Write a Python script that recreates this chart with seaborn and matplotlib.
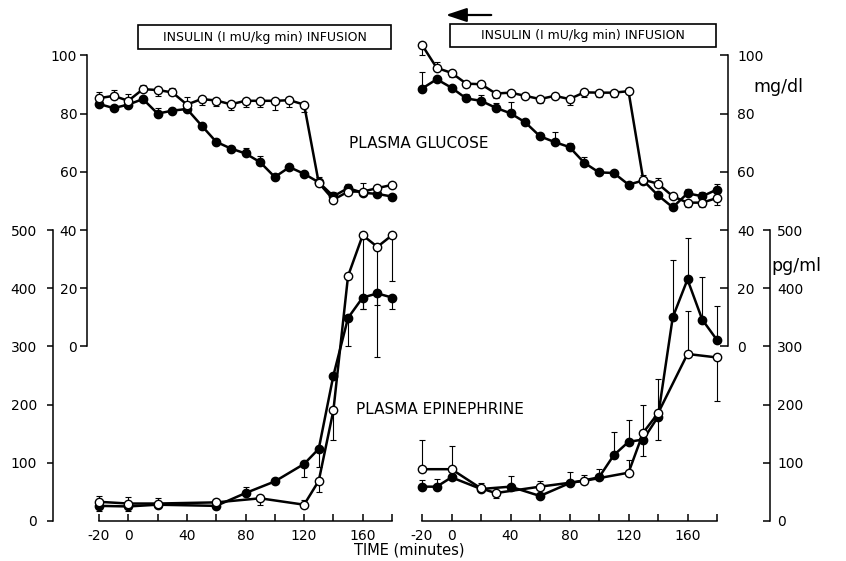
import matplotlib
matplotlib.use("Agg")
import matplotlib.pyplot as plt
import seaborn as sns
from matplotlib.patches import Rectangle, FancyArrowPatch

# ---------------- data ----------------
time_glu = [-20, -10, 0, 10, 20, 30, 40, 50, 60, 70, 80, 90, 100, 110, 120, 130, 140, 150, 160, 170, 180]

glu_left_open = [85.3, 86.1, 84.4, 88.4, 88.1, 87.3, 83.1, 85.0, 84.5, 83.2, 84.4, 84.4, 84.4, 84.6, 83.1,
                 56.2, 50.4, 53.2, 53.2, 54.4, 55.5]
glu_left_open_err = [2, 2, 2.5, 1.5, -2, 1.5, 2.5, -2, -2, -2, -2, -2, -3, -2.5, -2.5,
                     2, 2.5, 2.5, 3, 0, 0]
glu_left_filled = [83.3, 81.9, 83.1, 85.0, 80.0, 81.0, 81.6, 75.9, 70.3, 68.0, 66.3, 63.3, 58.2, 61.6, 59.3,
                   56.4, 51.6, 54.4, 52.8, 52.4, 51.5]
glu_left_filled_err = [0, 0, 0, 0, 2, 0, 2, 0, 0, 0, 2, 2, 0, 0, 0, 0, 0, 0, 0, 0, 0]

glu_right_open = [103.6, 95.7, 94.0, 90.3, 90.1, 86.9, 87.2, 86.1, 85.0, 86.1, 85.0, 87.3, 87.2, 87.2, 87.7,
                  57.3, 55.9, 51.6, 49.4, 49.4, 51.0]
glu_right_open_err = [-3.5, 2, -1.5, 0, 0, -1.5, 0, 0, -1.5, 0, -2, -1.5, -1.5, -1.5, 0,
                      1.5, 2, 0, -1.5, -1.5, -2.5]
glu_right_filled = [88.6, 91.8, 88.9, 85.2, 84.4, 82.0, 80.1, 77.0, 72.2, 70.2, 68.5, 63.1, 59.8, 59.6, 55.6,
                    57.0, 51.9, 47.8, 52.6, 51.6, 53.9]
glu_right_filled_err = [5.7, 0, 0, 1.5, 2, 1.5, 4, 1, 0, 3.5, 1.5, 2, 0, 0, 0, 0, 0, 0, 1.5, 1.5, 2]

epi_left_filled_t = [-20, 0, 20, 60, 80, 100, 120, 130, 140, 150, 160, 170, 180]
epi_left_filled = [26, 25, 28, 26, 48, 68, 98, 124, 250, 349, 384, 391, 384]
epi_left_filled_err = [-8, -8, 12, -6, 11, 0, -23, -31, 0, -48, -20, -20, -19]
epi_left_open_t = [-20, 0, 20, 60, 90, 120, 130, 140, 150, 160, 170, 180]
epi_left_open = [33, 30, 30, 32, 39, 28, 69, 190, 421, 491, 471, 491]
epi_left_open_err = [10, 11, 0, 5, -11, 8, -20, -50, 0, -127, -190, -79]

epi_right_filled_t = [-20, -10, 0, 20, 40, 60, 80, 100, 110, 120, 130, 140, 150, 160, 170, 180]
epi_right_filled = [59, 59, 75, 55, 59, 43, 65, 75, 113, 136, 140, 179, 350, 415, 346, 311]
epi_right_filled_err = [12, 13, 0, 10, 18, 0, 20, 15, 40, 37, 0, 0, 99, 72, 73, 59]
epi_right_open_t = [-20, 0, 20, 30, 60, 90, 120, 130, 140, 160, 180]
epi_right_open = [89, 89, 56, 48, 59, 69, 83, 152, 185, 287, 281]
epi_right_open_err_lo = [0, 0, 0, 8, 0, 0, 0, 41, 45, 0, 75]
epi_right_open_err_hi = [51, 40, 0, 0, 10, 10, 22, 48, 59, 74, 0]

x_ticks = [-20, 0, 20, 40, 60, 80, 100, 120, 140, 160, 180]
x_ticklabels = ["-20", "0", "", "40", "", "80", "", "120", "", "160", ""]
glu_ticks = [0, 20, 40, 60, 80, 100]
glu_ticklabels = ["0", "20", "40", "60", "80", "100"]
epi_ticks = [0, 100, 200, 300, 400, 500]
epi_ticklabels = ["0", "100", "200", "300", "400", "500"]

box_text = "INSULIN (I mU/kg min) INFUSION"
glucose_title = "PLASMA GLUCOSE"
epi_title = "PLASMA EPINEPHRINE"
xlabel_text = "TIME (minutes)"
glu_unit = "mg/dl"
epi_unit = "pg/ml"

# ---------------- layout ----------------
W, H = 846, 561
sns.set_style("white")
plt.rcParams['font.family'] = ['DejaVu Sans']
plt.rcParams['text.color'] = 'black'
plt.rcParams['xtick.color'] = 'black'
plt.rcParams['ytick.color'] = 'black'

fig = plt.figure(figsize=(W / 100, H / 100), dpi=100)
fig.patch.set_facecolor("white")

EPI_Y0 = 521.0      # pixel row of epinephrine 0
EPI_S = 0.582       # pixels per pg/ml
GLU_OFF, GLU_F = 300.0, 5.0  # glucose g sits at epi = GLU_OFF + GLU_F*g

epi_lim = ((EPI_Y0 - H) / EPI_S, EPI_Y0 / EPI_S)
glu_lim = ((epi_lim[0] - GLU_OFF) / GLU_F, (epi_lim[1] - GLU_OFF) / GLU_F)


def xl(px):
    return -20 + (px - 99) / 1.465


def xr(px):
    return -20 + (px - 422) / 1.475


def fx(px):
    return px / W


def fy(py):
    return 1 - py / H


LW = 1.8
MS = 6.0
SPW = 1.1


def errbars(ax, t, y, lo, hi):
    tt, yy, ll, hh = [], [], [], []
    for a, b, c, d in zip(t, y, lo, hi):
        if c or d:
            tt.append(a); yy.append(b); ll.append(c); hh.append(d)
    ax.errorbar(tt, yy, yerr=[ll, hh], fmt='none', ecolor='black', elinewidth=0.8,
                capsize=2.5, capthick=0.8, zorder=1)


def signed(e):
    return [(-v if v < 0 else 0) for v in e], [(v if v > 0 else 0) for v in e]


def series(ax, t, y, filled):
    sns.lineplot(x=t, y=y, ax=ax, color='black', linewidth=LW, marker='o', markersize=MS,
                 markerfacecolor='black' if filled else 'white', markeredgecolor='black',
                 markeredgewidth=1.0, zorder=3 if filled else 4, clip_on=False)


def make_panel():
    ax = fig.add_axes([0, 0, 1, 1])
    ax.patch.set_visible(False)
    axg = ax.twinx()
    axg.patch.set_visible(False)
    return ax, axg


# ---------- left panel ----------
axL, axLg = make_panel()
lo, hi = signed(epi_left_filled_err)
errbars(axL, epi_left_filled_t, epi_left_filled, lo, hi)
lo, hi = signed(epi_left_open_err)
errbars(axL, epi_left_open_t, epi_left_open, lo, hi)
series(axL, epi_left_filled_t, epi_left_filled, True)
series(axL, epi_left_open_t, epi_left_open, False)

lo, hi = signed(glu_left_filled_err)
errbars(axLg, time_glu, glu_left_filled, lo, hi)
lo, hi = signed(glu_left_open_err)
errbars(axLg, time_glu, glu_left_open, lo, hi)
series(axLg, time_glu, glu_left_filled, True)
series(axLg, time_glu, glu_left_open, False)

axL.set_xlim(xl(0), xl(W))
axL.set_ylim(*epi_lim)
axLg.set_ylim(*glu_lim)
for s in ['top', 'right']:
    axL.spines[s].set_visible(False)
axL.spines['left'].set_position(('data', xl(53)))
axL.spines['left'].set_bounds(0, 500)
axL.spines['bottom'].set_position(('data', 0))
axL.spines['bottom'].set_bounds(-20, 180)
for s in ['left', 'bottom']:
    axL.spines[s].set_linewidth(SPW)
    axL.spines[s].set_color('black')
axL.set_xticks(x_ticks)
axL.set_xticklabels(x_ticklabels)
axL.set_yticks(epi_ticks)
axL.set_yticklabels(epi_ticklabels)
axL.yaxis.set_ticks_position('left')
axL.xaxis.set_ticks_position('bottom')
axL.tick_params(axis='x', direction='in', length=5, width=SPW, pad=6, labelsize=10, colors='black')
axL.tick_params(axis='y', direction='out', length=4.5, width=SPW, pad=7, labelsize=10, colors='black')
axL.set_xlabel(""); axL.set_ylabel("")

for s in ['top', 'right', 'bottom']:
    axLg.spines[s].set_visible(False)
axLg.spines['left'].set_visible(True)
axLg.spines['left'].set_position(('data', xl(87)))
axLg.spines['left'].set_bounds(0, 100)
axLg.spines['left'].set_linewidth(SPW)
axLg.spines['left'].set_color('black')
axLg.yaxis.set_ticks_position('left')
axLg.set_yticks(glu_ticks)
axLg.set_yticklabels(glu_ticklabels)
axLg.tick_params(axis='y', direction='out', length=5, width=SPW, pad=2, labelsize=10, colors='black')
axLg.set_ylabel("")

# ---------- right panel ----------
axR, axRg = make_panel()
lo, hi = signed(epi_right_filled_err)
errbars(axR, epi_right_filled_t, epi_right_filled, lo, hi)
errbars(axR, epi_right_open_t, epi_right_open, epi_right_open_err_lo, epi_right_open_err_hi)
series(axR, epi_right_filled_t, epi_right_filled, True)
series(axR, epi_right_open_t, epi_right_open, False)

lo, hi = signed(glu_right_filled_err)
errbars(axRg, time_glu, glu_right_filled, lo, hi)
lo, hi = signed(glu_right_open_err)
errbars(axRg, time_glu, glu_right_open, lo, hi)
series(axRg, time_glu, glu_right_filled, True)
series(axRg, time_glu, glu_right_open, False)

axR.set_xlim(xr(0), xr(W))
axR.set_ylim(*epi_lim)
axRg.set_ylim(*glu_lim)
for s in ['top', 'left']:
    axR.spines[s].set_visible(False)
axR.spines['right'].set_visible(True)
axR.spines['right'].set_position(('data', xr(770)))
axR.spines['right'].set_bounds(0, 500)
axR.spines['bottom'].set_position(('data', 0))
axR.spines['bottom'].set_bounds(-20, 180)
for s in ['right', 'bottom']:
    axR.spines[s].set_linewidth(SPW)
    axR.spines[s].set_color('black')
axR.set_xticks(x_ticks)
axR.set_xticklabels(x_ticklabels)
axR.yaxis.set_ticks_position('right')
axR.xaxis.set_ticks_position('bottom')
axR.set_yticks(epi_ticks)
axR.set_yticklabels(epi_ticklabels)
axR.tick_params(axis='x', direction='in', length=5, width=SPW, pad=6, labelsize=10, colors='black')
axR.tick_params(axis='y', direction='in', length=5, width=SPW, pad=5, labelsize=10, colors='black',
                left=False, labelleft=False, right=True, labelright=True)
axR.set_xlabel(""); axR.set_ylabel("")

for s in ['top', 'left', 'bottom']:
    axRg.spines[s].set_visible(False)
axRg.spines['right'].set_visible(True)
axRg.spines['right'].set_position(('data', xr(728)))
axRg.spines['right'].set_bounds(0, 100)
axRg.spines['right'].set_linewidth(SPW)
axRg.spines['right'].set_color('black')
axRg.yaxis.set_ticks_position('right')
axRg.set_yticks(glu_ticks)
axRg.set_yticklabels(glu_ticklabels)
axRg.tick_params(axis='y', direction='in', length=5.5, width=SPW, pad=6.5, labelsize=10, colors='black')
axRg.set_ylabel("")

# ---------- annotations ----------
fig.text(fx(419), fy(143), glucose_title, ha='center', va='center', fontsize=11, color='black')
fig.text(fx(440), fy(410), epi_title, ha='center', va='center', fontsize=11, color='black')
fig.text(fx(409), fy(550), xlabel_text, ha='center', va='center', fontsize=10.5, color='black')
fig.text(fx(778), fy(87), glu_unit, ha='center', va='center', fontsize=12.5, color='black')
fig.text(fx(796), fy(266), epi_unit, ha='center', va='center', fontsize=12.5, color='black')

for (x0, x1, y0, y1) in [(138, 391, 25, 49), (450, 716, 24, 47)]:
    fig.add_artist(Rectangle((fx(x0), fy(y1)), fx(x1) - fx(x0), fy(y0) - fy(y1),
                             transform=fig.transFigure, fill=False, lw=1.2, edgecolor='black'))
    fig.text(fx((x0 + x1) / 2), fy((y0 + y1) / 2), box_text, ha='center', va='center',
             fontsize=9, color='black')

fig.add_artist(FancyArrowPatch((fx(494), fy(15)), (fx(443), fy(15)), transform=fig.transFigure,
                               arrowstyle='-|>,head_length=0.9,head_width=0.3', mutation_scale=14,
                               lw=1.6, color='black'))

fig.savefig("out.png", dpi=100)
